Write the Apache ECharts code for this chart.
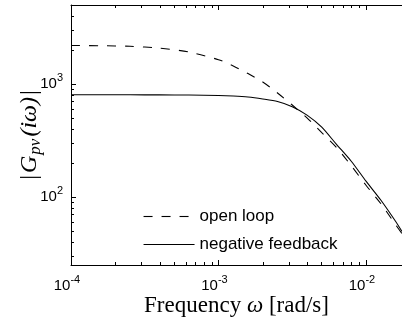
<!DOCTYPE html>
<html><head><meta charset="utf-8">
<script src="https://cdn.jsdelivr.net/npm/echarts@6/dist/echarts.min.js"></script>
<style>html,body{margin:0;padding:0;background:#fff}#c{width:402px;height:322px}</style>
</head><body><div id="c"></div>
<script>
// frequency samples (rad/s)
const omega = [1e-4, 1.585e-4, 2.512e-4, 3.981e-4, 6.31e-4, 1e-3, 1.259e-3, 1.585e-3, 1.995e-3, 2.512e-3, 3.162e-3, 3.981e-3, 5.012e-3, 6.31e-3, 7.943e-3, 1e-2, 1.259e-2, 1.585e-2, 1.754e-2];
// |G_pv(iw)|
const openLoop = [2190, 2181, 2154, 2077, 1918, 1641, 1445, 1237, 1042, 833, 651, 501, 371, 274, 189, 127, 87.5, 57.0, 47.4];
const negFeedback = [803, 803, 802, 801, 798, 791, 782, 766, 736, 699, 629, 530, 415, 292, 207, 138, 94, 61, 49.5];
const seriesNames = ['open loop', 'negative feedback'];
const xMajorTicks = [1e-4, 1e-3, 1e-2];
const xMinorTicks = [2e-4, 3e-4, 4e-4, 5e-4, 6e-4, 7e-4, 8e-4, 9e-4, 2e-3, 3e-3, 4e-3, 5e-3, 6e-3, 7e-3, 8e-3, 9e-3];
const yMajorTicks = [100, 1000];
const yMinorTicks = [30, 40, 50, 60, 70, 80, 90, 200, 300, 400, 500, 600, 700, 800, 900, 2000, 3000, 4000];
const xRange = [1e-4, 0.01754];
const yRange = [25, 5000];

const SANS = 'Liberation Sans, Arial, Helvetica, sans-serif';
const SERIF = 'Liberation Serif, Times New Roman, serif';

function powLabel(v) {
  const e = Math.round(Math.log10(v));
  return '{b|10}{s|' + (e < 0 ? '-' + (-e) : String(e)) + '}';
}
const tickRich = {
  b: { fontSize: 15, fontFamily: SANS, color: '#000', lineHeight: 24 },
  s: { fontSize: 11, fontFamily: SANS, color: '#000', lineHeight: 11, verticalAlign: 'top' }
};
const xTickRich = {
  b: { fontSize: 15, fontFamily: SANS, color: '#000', lineHeight: 24 },
  s: { fontSize: 11, fontFamily: SANS, color: '#000', lineHeight: 11, verticalAlign: 'top', padding: [0, 8, 0, 0] }
};
const axisLine = { show: true, lineStyle: { color: '#000', width: 1 } };

function xAx(pos, major, withLabels) {
  return {
    type: 'log', logBase: 10, position: pos, min: xRange[0], max: xRange[1],
    axisLine: major ? axisLine : { show: false },
    axisTick: { show: true, inside: true, length: major ? 5 : 3, lineStyle: { color: '#000' },
      customValues: major ? xMajorTicks : xMinorTicks },
    axisLabel: withLabels ? { show: true, customValues: xMajorTicks, formatter: powLabel, margin: 9, rich: xTickRich } : { show: false },
    splitLine: { show: false }, minorTick: { show: false }
  };
}
function yAx(major, withLabels) {
  const a = {
    type: 'log', logBase: 10, position: 'left', min: yRange[0], max: yRange[1],
    axisLine: major ? axisLine : { show: false },
    axisTick: { show: true, inside: true, length: major ? 5 : 3, lineStyle: { color: '#000' },
      customValues: major ? yMajorTicks : yMinorTicks },
    axisLabel: withLabels ? { show: true, customValues: yMajorTicks, formatter: powLabel, margin: 8, rich: tickRich } : { show: false },
    splitLine: { show: false }, minorTick: { show: false }
  };
  if (withLabels) {
    a.name = '{n||}{i|G}{sub|pv}{i|(iω)}{n||}';
    a.nameLocation = 'middle';
    a.nameRotate = 90;
    a.nameGap = 27;
    a.nameMoveOverlap = false;
    a.nameTextStyle = {
      rich: {
        n: { fontFamily: SERIF, fontSize: 24, color: '#000', lineHeight: 28, padding: [0, 2, 0, 2] },
        i: { fontFamily: SERIF, fontSize: 24, fontStyle: 'italic', color: '#000', lineHeight: 28 },
        sub: { fontFamily: SERIF, fontSize: 17, fontStyle: 'italic', color: '#000', lineHeight: 17, verticalAlign: 'bottom', padding: [0, 2, 0, 1] }
      }
    };
  }
  return a;
}

const xAxes = [xAx('bottom', true, true), xAx('bottom', false, false), xAx('top', true, false), xAx('top', false, false)];
xAxes[0].name = 'Frequency {i|ω} [rad/s]';
xAxes[0].nameLocation = 'middle';
xAxes[0].nameGap = 29;
xAxes[0].nameMoveOverlap = false;
xAxes[0].nameTextStyle = {
  fontFamily: SERIF, fontSize: 23, color: '#000',
  rich: { i: { fontFamily: SERIF, fontSize: 23, fontStyle: 'italic', color: '#000' } }
};

const chart = echarts.init(document.getElementById('c'), null, { renderer: 'canvas' });
chart.setOption({
  animation: false,
  backgroundColor: '#fff',
  grid: { left: 71, right: 0, top: 5, bottom: 57, containLabel: false, outerBoundsMode: 'none' },
  xAxis: xAxes,
  yAxis: [yAx(true, true), yAx(false, false)],
  legend: {
    orient: 'vertical', left: 138, top: 203, itemWidth: 51, itemHeight: 12, itemGap: 11,
    data: seriesNames,
    itemStyle: { opacity: 0 },
    lineStyle: { width: 1.1 },
    textStyle: { fontSize: 17, fontFamily: SANS, color: '#000' }
  },
  series: [
    {
      name: seriesNames[0], type: 'line', xAxisIndex: 0, yAxisIndex: 0,
      symbol: 'none', showSymbol: false, smooth: 0.25,
      lineStyle: { color: '#000', width: 1.1, type: [9, 9] },
      itemStyle: { color: '#000' },
      data: omega.map((w, i) => [w, openLoop[i]])
    },
    {
      name: seriesNames[1], type: 'line', xAxisIndex: 0, yAxisIndex: 0,
      symbol: 'none', showSymbol: false, smooth: 0.25,
      lineStyle: { color: '#000', width: 1.1, type: 'solid' },
      itemStyle: { color: '#000' },
      data: omega.map((w, i) => [w, negFeedback[i]])
    }
  ]
});
</script>
</body></html>
